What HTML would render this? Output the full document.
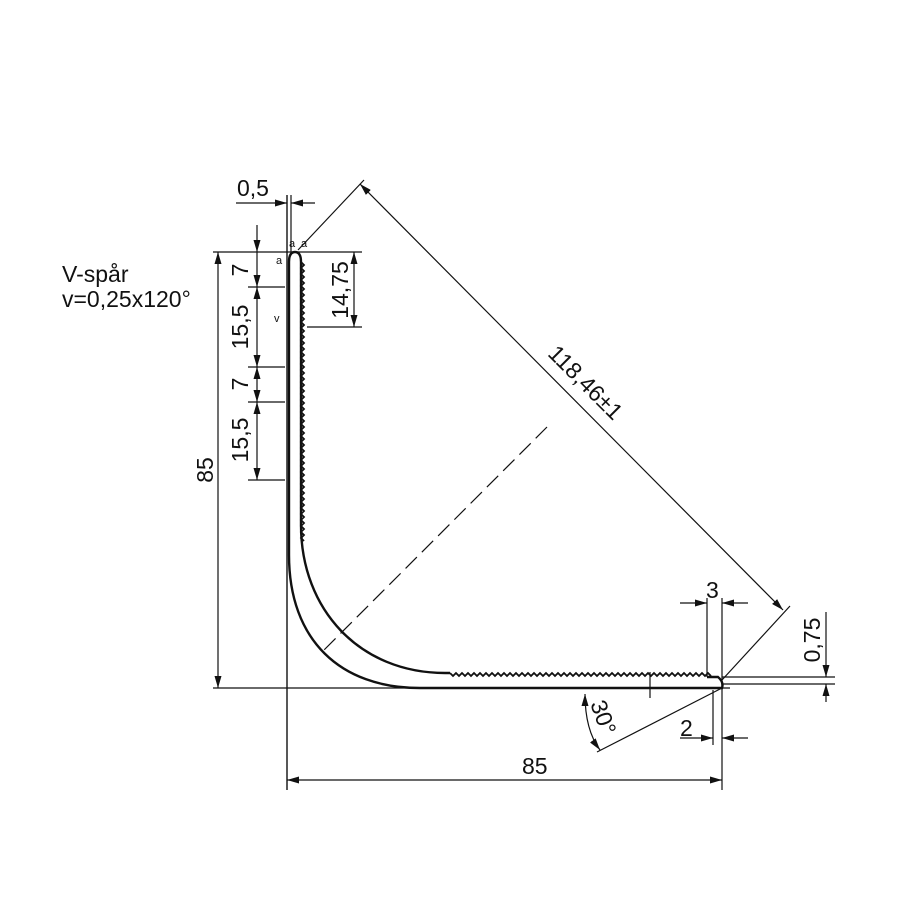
<!DOCTYPE html>
<html><head><style>body{margin:0;background:#fff}svg{display:block}text{font-family:"Liberation Sans",sans-serif;fill:#111}</style></head><body>
<svg width="900" height="900" viewBox="0 0 900 900" xmlns="http://www.w3.org/2000/svg">
<defs>
<marker id="a" viewBox="0 0 12 7" refX="12" refY="3.5" markerWidth="12" markerHeight="7" orient="auto-start-reverse" markerUnits="userSpaceOnUse"><path d="M0,0L12,3.5L0,7z" fill="#111"/></marker>
</defs>
<g stroke="#111" stroke-width="1.2" fill="none">
<line x1="213" y1="252" x2="362" y2="252"/>
<line x1="213" y1="688" x2="730" y2="688"/>
<line x1="722" y1="677" x2="835" y2="677"/>
<line x1="722" y1="684" x2="835" y2="684"/>
<line x1="287" y1="195" x2="287" y2="790" stroke-width="1.4"/>
<line x1="291" y1="195" x2="291" y2="252"/>
<line x1="248" y1="287" x2="285" y2="287"/>
<line x1="248" y1="367" x2="285" y2="367"/>
<line x1="248" y1="402" x2="285" y2="402"/>
<line x1="248" y1="480" x2="285" y2="480"/>
<line x1="307" y1="327" x2="362" y2="327"/>
<line x1="707" y1="598" x2="707" y2="677"/>
<line x1="722" y1="598" x2="722" y2="790"/>
<line x1="713" y1="690" x2="713" y2="745"/>
<line x1="218" y1="252" x2="218" y2="688" marker-start="url(#a)" marker-end="url(#a)"/>
<line x1="236" y1="203" x2="287" y2="203" marker-end="url(#a)"/>
<line x1="315" y1="203" x2="291" y2="203" marker-end="url(#a)"/>
<line x1="257" y1="225" x2="257" y2="252" marker-end="url(#a)"/>
<line x1="257" y1="252" x2="257" y2="287" marker-end="url(#a)"/>
<line x1="257" y1="287" x2="257" y2="367" marker-start="url(#a)" marker-end="url(#a)"/>
<line x1="257" y1="367" x2="257" y2="402" marker-start="url(#a)" marker-end="url(#a)"/>
<line x1="257" y1="402" x2="257" y2="480" marker-start="url(#a)" marker-end="url(#a)"/>
<line x1="354" y1="252" x2="354" y2="327" marker-start="url(#a)" marker-end="url(#a)"/>
<line x1="298" y1="250" x2="364" y2="180"/>
<line x1="722" y1="680" x2="790" y2="606"/>
<line x1="360" y1="184" x2="783" y2="610" marker-start="url(#a)" marker-end="url(#a)"/>
<line x1="547" y1="427" x2="322" y2="652" stroke-dasharray="16,7"/>
<line x1="680" y1="603" x2="707" y2="603" marker-end="url(#a)"/>
<line x1="748" y1="603" x2="722" y2="603" marker-end="url(#a)"/>
<line x1="680" y1="738" x2="713" y2="738" marker-end="url(#a)"/>
<line x1="748" y1="738" x2="722" y2="738" marker-end="url(#a)"/>
<line x1="826" y1="612" x2="826" y2="677" marker-end="url(#a)"/>
<line x1="826" y1="702" x2="826" y2="684" marker-end="url(#a)"/>
<line x1="287" y1="780" x2="722" y2="780" marker-start="url(#a)" marker-end="url(#a)"/>
<line x1="722" y1="688" x2="597" y2="752"/>
<path d="M585,694 Q585,730 600,750" marker-start="url(#a)" marker-end="url(#a)"/>
<line x1="650" y1="672" x2="650" y2="698"/>
</g>
<g stroke="#111" stroke-width="2.4" fill="none">
<path d="M289,262 Q289,252 295,252 Q301,252 301,262"/>
<path d="M289,262 L289,555 C289,640 340,688 420,688 L722,688 Q724,682 718,677 L707,677"/>
<path d="M301,262 L301,525 C301,610 360,673 445,673 L450,673"/>
<path d="M301,262 l3,3 l-3,3 l3,3 l-3,3 l3,3 l-3,3 l3,3 l-3,3 l3,3 l-3,3 l3,3 l-3,3 l3,3 l-3,3 l3,3 l-3,3 l3,3 l-3,3 l3,3 l-3,3 l3,3 l-3,3 l3,3 l-3,3 l3,3 l-3,3 l3,3 l-3,3 l3,3 l-3,3 l3,3 l-3,3 l3,3 l-3,3 l3,3 l-3,3 l3,3 l-3,3 l3,3 l-3,3 l3,3 l-3,3 l3,3 l-3,3 l3,3 l-3,3 l3,3 l-3,3 l3,3 l-3,3 l3,3 l-3,3 l3,3 l-3,3 l3,3 l-3,3 l3,3 l-3,3 l3,3 l-3,3 l3,3 l-3,3 l3,3 l-3,3 l3,3 l-3,3 l3,3 l-3,3 l3,3 l-3,3 l3,3 l-3,3 l3,3 l-3,3 l3,3 l-3,3 l3,3 l-3,3 l3,3 l-3,3 l3,3 l-3,3 l3,3 l-3,3 l3,3 l-3,3 l3,3 l-3,3 l3,3 l-3,3 l3,3 l-3,3 l3,3" stroke-width="1.8"/>
<path d="M450,673 l3,3 l3,-3 l3,3 l3,-3 l3,3 l3,-3 l3,3 l3,-3 l3,3 l3,-3 l3,3 l3,-3 l3,3 l3,-3 l3,3 l3,-3 l3,3 l3,-3 l3,3 l3,-3 l3,3 l3,-3 l3,3 l3,-3 l3,3 l3,-3 l3,3 l3,-3 l3,3 l3,-3 l3,3 l3,-3 l3,3 l3,-3 l3,3 l3,-3 l3,3 l3,-3 l3,3 l3,-3 l3,3 l3,-3 l3,3 l3,-3 l3,3 l3,-3 l3,3 l3,-3 l3,3 l3,-3 l3,3 l3,-3 l3,3 l3,-3 l3,3 l3,-3 l3,3 l3,-3 l3,3 l3,-3 l3,3 l3,-3 l3,3 l3,-3 l3,3 l3,-3 l3,3 l3,-3 l3,3 l3,-3 l3,3 l3,-3 l3,3 l3,-3 l3,3 l3,-3 l3,3 l3,-3 l3,3 l3,-3 l3,3 l3,-3 l3,3 l3,-3 l3,3 l3,-3 l3,3" stroke-width="1.8"/>
</g>
<g font-size="23">
<text x="237" y="196">0,5</text>
<text x="62" y="282">V-spår</text>
<text x="62" y="307">v=0,25x120°</text>
<text x="522" y="774">85</text>
<text x="706" y="598">3</text>
<text x="680" y="736">2</text>
<text transform="translate(213,470) rotate(-90)" text-anchor="middle">85</text>
<text transform="translate(248,270) rotate(-90)" text-anchor="middle">7</text>
<text transform="translate(248,327) rotate(-90)" text-anchor="middle">15,5</text>
<text transform="translate(248,384) rotate(-90)" text-anchor="middle">7</text>
<text transform="translate(248,440) rotate(-90)" text-anchor="middle">15,5</text>
<text transform="translate(348,290) rotate(-90)" text-anchor="middle">14,75</text>
<text transform="translate(820,640) rotate(-90)" text-anchor="middle">0,75</text>
<text transform="translate(580,388) rotate(45)" text-anchor="middle">118,46±1</text>
<text transform="translate(596,720) rotate(70)" text-anchor="middle">30°</text>
</g>
<g font-size="11"><text x="289" y="247">a</text><text x="301" y="247">a</text><text x="276" y="264">a</text><text x="274" y="322">v</text></g>
</svg>
</body></html>
